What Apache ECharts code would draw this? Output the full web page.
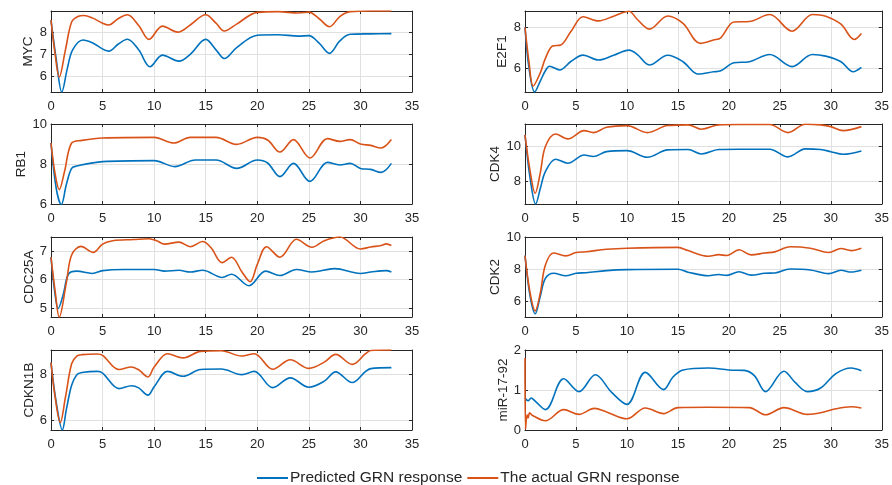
<!DOCTYPE html>
<html>
<head>
<meta charset="utf-8">
<script src="https://cdn.jsdelivr.net/npm/echarts@6/dist/echarts.min.js"></script>
<style>
  html, body { margin: 0; padding: 0; background: #fff; }
  #grnChart { width: 892px; height: 485px; }
</style>
</head>
<body>
<div id="grnChart"></div>
<script>
// series names
var predName = "Predicted GRN response";
var actualName = "The actual GRN response";

// [time, expression]
var mycPred = [[0,8.54],[0.5,6.8],[1.05,5.3],[1.6,6.4],[2.1,7.2],[3.1,7.64],[4,7.52],[5.6,7.14],[6.5,7.45],[7.4,7.68],[8.5,7.2],[9.6,6.44],[10.8,6.96],[12.4,6.69],[13.5,7.0],[15,7.67],[16,7.2],[16.8,6.81],[18,7.3],[20,7.86],[22,7.88],[24,7.82],[25,7.84],[26,7.5],[27,7.04],[28,7.6],[29,7.9],[31,7.92],[33,7.93]];
var mycActual = [[0,8.54],[0.4,7.0],[0.8,5.98],[1.4,7.2],[2,8.45],[2.6,8.7],[3.2,8.75],[4,8.64],[5,8.4],[5.6,8.32],[6.5,8.6],[7.4,8.78],[8.5,8.3],[9.5,7.67],[10.8,8.27],[12.3,8.0],[13.5,8.32],[15,8.78],[16,8.4],[16.8,8.05],[18,8.36],[20,8.89],[22,8.92],[24,8.86],[25,8.9],[26,8.6],[27,8.24],[28,8.7],[29,8.92],[31,8.95],[33,8.95]];

var e2f1Pred = [[0,8.0],[0.4,6.0],[0.95,4.87],[1.5,5.4],[2,5.9],[2.4,6.12],[3.4,5.94],[4.5,6.35],[5.7,6.66],[7.2,6.42],[8.7,6.65],[10.2,6.9],[11,6.7],[12.2,6.18],[14,6.65],[15.5,6.34],[17,5.74],[18.5,5.85],[19.2,5.9],[20.5,6.29],[22,6.34],[24,6.69],[26.2,6.1],[28.2,6.69],[29.5,6.61],[31,6.34],[32.2,5.85],[33,6.06]];
var e2f1Actual = [[0,8.0],[0.4,6.3],[0.8,5.16],[1.5,5.8],[2,6.5],[2.7,7.1],[3.5,7.15],[4.5,7.8],[5.7,8.52],[7.2,8.32],[8.7,8.55],[10.2,8.79],[11,8.4],[12.2,7.92],[14,8.56],[15.5,8.2],[17.2,7.23],[18.5,7.39],[19.2,7.5],[20.5,8.27],[22,8.29],[24,8.63],[26.2,7.82],[28.2,8.63],[29.5,8.55],[31,8.16],[32.3,7.42],[33,7.71]];

var rb1Pred = [[0,9.05],[0.5,6.8],[1,5.97],[1.5,7.0],[2,7.78],[2.5,7.9],[5,8.12],[10,8.17],[12,7.87],[14,8.2],[16,8.2],[18,7.78],[20,8.2],[21,8.05],[22.2,7.37],[23.5,8.03],[25.1,7.13],[26.8,8.08],[28,7.95],[29,8.03],[30,7.78],[31,7.73],[32,7.58],[33,8.03]];
var rb1Actual = [[0,9.05],[0.4,7.5],[0.8,6.72],[1.3,7.6],[2,9.05],[3,9.18],[5,9.3],[10,9.33],[11.9,9.05],[13.5,9.33],[16,9.33],[18,8.98],[20,9.33],[21,9.2],[22.2,8.6],[23.5,9.22],[25.1,8.3],[26.8,9.27],[28,9.13],[29,9.22],[30,9.0],[31,8.93],[32,8.8],[33,9.22]];

var cdk4Pred = [[0,10.67],[0.5,8.2],[1.05,6.72],[1.5,7.6],[2,8.57],[3,9.28],[4.2,9.05],[5.8,9.52],[6.7,9.43],[8,9.71],[10,9.77],[12,9.39],[14,9.81],[16,9.83],[17.3,9.58],[19,9.83],[21,9.85],[24,9.85],[25.8,9.41],[27.5,9.87],[29,9.83],[30,9.71],[31.2,9.56],[33,9.75]];
var cdk4Actual = [[0,10.67],[0.5,8.6],[1,7.33],[1.5,8.5],[2,10.0],[3,10.72],[4.2,10.44],[5.8,10.91],[6.7,10.8],[8,11.1],[10,11.2],[12,10.8],[14,11.2],[16,11.24],[17.3,10.99],[19,11.24],[21,11.26],[24,11.26],[25.8,10.8],[27.5,11.28],[29,11.24],[30,11.14],[31.2,10.91],[33,11.14]];

var cdc25aPred = [[0,6.79],[0.35,5.6],[0.7,4.99],[1.2,5.5],[1.7,6.2],[2.5,6.3],[4,6.22],[5,6.32],[7,6.36],[10,6.36],[11,6.3],[12.4,6.33],[13.5,6.27],[14.7,6.33],[16.6,6.08],[17.5,6.19],[19.2,5.79],[20.8,6.3],[22.2,6.15],[23.8,6.36],[25.3,6.27],[27.5,6.39],[30,6.22],[31,6.27],[32.5,6.32],[33,6.27]];
var cdc25aActual = [[0,6.79],[0.4,5.6],[0.8,4.69],[1.5,5.92],[2,6.87],[2.9,7.17],[4.1,6.96],[5,7.25],[6,7.37],[8,7.41],[9.5,7.44],[10.3,7.36],[11,7.25],[12.4,7.32],[13.5,7.16],[14.7,7.34],[15.5,7.13],[16.6,6.6],[17.5,6.79],[18.5,6.28],[19.3,5.93],[20,6.54],[20.9,7.16],[22.2,6.79],[23.8,7.42],[25.3,7.14],[26.5,7.37],[28,7.5],[30,7.08],[31,7.15],[32,7.2],[32.5,7.26],[33,7.2]];

var cdk2Pred = [[0,8.84],[0.5,6.3],[1,5.2],[1.5,6.3],[2,7.41],[2.8,7.73],[4,7.58],[5,7.73],[6,7.77],[8,7.9],[10,7.96],[15,7.98],[16,7.8],[18,7.58],[19,7.66],[19.8,7.6],[21,7.83],[22.2,7.62],[23.5,7.73],[24.5,7.75],[26,8.0],[28,7.94],[29.8,7.71],[31,7.92],[32,7.81],[33,7.92]];
var cdk2Actual = [[0,8.84],[0.5,6.5],[1,5.38],[1.5,6.5],[2,8.25],[2.8,9.0],[4,8.82],[5,9.03],[6,9.08],[8,9.23],[10,9.3],[15,9.35],[16,9.15],[18,8.8],[19,8.9],[19.8,8.84],[21,9.2],[22.2,8.88],[23.5,9.0],[24.5,9.07],[26,9.39],[28,9.3],[29.8,9.03],[31,9.28],[32,9.15],[33,9.3]];

var cdkn1bPred = [[0,8.49],[0.5,6.8],[1.1,5.59],[1.5,6.5],[2,7.51],[2.5,7.97],[3,8.06],[4.5,8.11],[5,8.04],[6.6,7.37],[7.8,7.49],[8.5,7.4],[9.4,7.09],[10,7.45],[11.3,8.11],[12.8,7.9],[14.5,8.19],[16.5,8.21],[18.5,7.97],[19.7,8.11],[21.5,7.41],[23.2,7.83],[25,7.43],[26.5,7.69],[27.6,8.09],[29.2,7.63],[30.5,8.11],[31,8.23],[33,8.27]];
var cdkn1bActual = [[0,8.49],[0.4,7.0],[0.9,5.91],[1.4,7.0],[2,8.44],[2.5,8.77],[3,8.83],[4.5,8.86],[5,8.8],[6.6,8.19],[7.8,8.3],[8.5,8.18],[9.4,7.87],[10,8.3],[11.3,8.87],[12.8,8.69],[14.5,8.97],[16.5,9.0],[18.5,8.77],[19.7,8.87],[21.5,8.2],[23.2,8.61],[25,8.24],[26.5,8.51],[27.6,8.84],[29.2,8.41],[30.5,8.87],[31,9.01],[33,9.03]];

var mirPred = [[0,0.8],[0.3,0.73],[0.6,0.8],[1,0.72],[2,0.51],[3.8,1.28],[5.3,0.96],[6.9,1.38],[8.5,0.94],[10,0.64],[11.8,1.44],[13.6,1.01],[14.5,1.32],[15.5,1.5],[18,1.55],[20,1.5],[21.5,1.49],[22.5,1.36],[23.6,0.96],[25.4,1.47],[26.5,1.19],[27.7,0.96],[29,1.05],[30.5,1.41],[32,1.55],[33,1.48]];
var mirActual = [[0,1.8],[0.05,0.02],[0.2,0.38],[0.3,0.3],[0.45,0.43],[0.7,0.37],[2,0.23],[3.8,0.51],[5.3,0.39],[6.8,0.54],[8,0.45],[10,0.28],[11.8,0.55],[13.6,0.41],[15,0.56],[18,0.57],[22,0.56],[23.6,0.38],[25.4,0.56],[27.7,0.39],[29,0.43],[30.5,0.53],[32,0.58],[33,0.55]];

// panel labels, y ranges and tick labels
var panelNames = ["MYC", "E2F1", "RB1", "CDK4", "CDC25A", "CDK2", "CDKN1B", "miR-17-92"];
var panelPred = [mycPred, e2f1Pred, rb1Pred, cdk4Pred, cdc25aPred, cdk2Pred, cdkn1bPred, mirPred];
var panelActual = [mycActual, e2f1Actual, rb1Actual, cdk4Actual, cdc25aActual, cdk2Actual, cdkn1bActual, mirActual];
var yMin = [5.3, 4.87, 6, 6.72, 4.69, 5, 5.59, 0];
var yMax = [8.95, 8.8, 10, 11.29, 7.5, 10, 9.03, 2];
var yTicks = [[6, 7, 8], [6, 8], [6, 8, 10], [8, 10], [5, 6, 7], [6, 8, 10], [6, 8], [0, 1, 2]];

var chart = echarts.init(document.getElementById("grnChart"));

var ink = "#262626";
var gridColor = "#e0e0e0";
var blue = "#0072BD";
var orange = "#D95319";

var colLeft = [51, 525];
var colWidth = [361, 360];
var rowTop = [11, 124, 237, 350];
var rowHeight = [81, 80, 80, 80];
var nameGaps = [16, 16, 22, 23, 14, 23, 14, 15];

var grids = [], xAxes = [], yAxes = [], series = [];

for (var i = 0; i < 8; i++) {
  var col = i % 2, row = Math.floor(i / 2);
  grids.push({
    left: colLeft[col], top: rowTop[row],
    width: colWidth[col], height: rowHeight[row],
    show: false
  });
  var tickInside = { show: true, inside: true, length: 3, lineStyle: { color: ink } };
  var frame = { show: true, onZero: false, lineStyle: { color: ink, width: 1 } };
  xAxes.push({
    gridIndex: i, type: "value", min: 0, max: 35, interval: 5,
    axisLine: frame, axisTick: tickInside,
    axisLabel: { color: ink, fontSize: 13, margin: 8 },
    splitLine: { show: true, lineStyle: { color: gridColor, width: 1 } }
  });
  xAxes.push({
    gridIndex: i, type: "value", min: 0, max: 35, interval: 5, position: "top",
    axisLine: frame, axisTick: tickInside,
    axisLabel: { show: false },
    splitLine: { show: false }
  });
  yAxes.push({
    gridIndex: i, type: "value", min: yMin[i], max: yMax[i],
    name: panelNames[i], nameLocation: "middle", nameGap: nameGaps[i],
    nameTextStyle: { color: ink, fontSize: 13.5 },
    axisLine: frame,
    axisTick: { show: true, inside: true, length: 3, lineStyle: { color: ink }, customValues: yTicks[i] },
    axisLabel: { color: ink, fontSize: 13, margin: 4, customValues: yTicks[i] },
    splitLine: { show: true, lineStyle: { color: gridColor, width: 1 } }
  });
  yAxes.push({
    gridIndex: i, type: "value", min: yMin[i], max: yMax[i], position: "right",
    axisLine: frame,
    axisTick: { show: true, inside: true, length: 3, lineStyle: { color: ink }, customValues: yTicks[i] },
    axisLabel: { show: false, customValues: yTicks[i] },
    splitLine: { show: false }
  });
  series.push({
    name: predName, type: "line", xAxisIndex: 2 * i, yAxisIndex: 2 * i,
    data: panelPred[i], smooth: 0.35, showSymbol: false, clip: true,
    lineStyle: { color: blue, width: 1.6 }, itemStyle: { color: blue }
  });
  series.push({
    name: actualName, type: "line", xAxisIndex: 2 * i, yAxisIndex: 2 * i,
    data: panelActual[i], smooth: 0.35, showSymbol: false, clip: true,
    lineStyle: { color: orange, width: 1.6 }, itemStyle: { color: orange }
  });
}

var option = {
  animation: false,
  textStyle: { fontFamily: "Liberation Sans, Arial, sans-serif" },
  grid: grids,
  xAxis: xAxes,
  yAxis: yAxes,
  legend: {
    data: [predName, actualName],
    left: 252, top: 465,
    icon: "rect", itemWidth: 31, itemHeight: 2, itemGap: 5,
    textStyle: { color: ink, fontSize: 15.5, padding: [0, 0, 0, -3] }
  },
  series: series
};

option && chart.setOption(option);
</script>
</body>
</html>
